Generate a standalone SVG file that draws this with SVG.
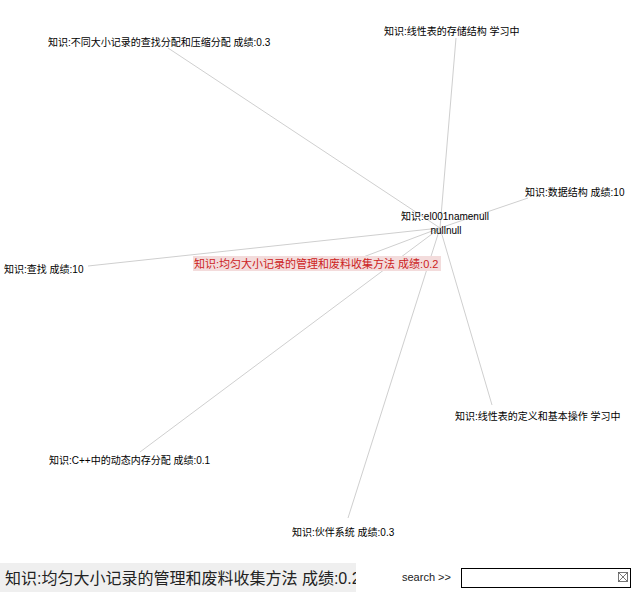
<svg xmlns="http://www.w3.org/2000/svg" width="634" height="604" viewBox="0 0 634 604">
<style>
.l{stroke:#cfcfcf;stroke-width:1;fill:none}
.t{font-family:"Liberation Sans","Noto Sans CJK SC",sans-serif;font-size:10px;fill:#000}
</style>
<rect width="634" height="604" fill="#fff"/>
<g id="connectors">
<line class="l" x1="440" y1="228" x2="168" y2="48"/>
<line class="l" x1="440" y1="228" x2="456" y2="38"/>
<line class="l" x1="440" y1="228" x2="528" y2="198"/>
<line class="l" x1="440" y1="228" x2="88" y2="266"/>
<line class="l" x1="440" y1="228" x2="350" y2="262"/>
<line class="l" x1="440" y1="228" x2="492" y2="405"/>
<line class="l" x1="440" y1="228" x2="140" y2="452"/>
<line class="l" x1="440" y1="228" x2="348" y2="518"/>
</g>
<g id="n-center"><text class="t" x="445" y="220" text-anchor="middle">知识:el001namenull</text><text class="t" x="446" y="234" text-anchor="middle">nullnull</text></g>
<g id="n1"><text class="t" x="48" y="46">知识:不同大小记录的查找分配和压缩分配 成绩:0.3</text></g>
<g id="n2"><text class="t" x="384" y="35">知识:线性表的存储结构 学习中</text></g>
<g id="n3"><text class="t" x="525" y="196">知识:数据结构 成绩:10</text></g>
<g id="n4"><text class="t" x="4" y="273">知识:查找 成绩:10</text></g>
<g id="n5"><rect x="193" y="256" width="248" height="15" fill="#f3dcdc"/><text class="t" x="194" y="267.5" style="fill:#cc2222;font-size:11px">知识:均匀大小记录的管理和废料收集方法 成绩:0.2</text></g>
<g id="n6"><text class="t" x="455" y="420">知识:线性表的定义和基本操作 学习中</text></g>
<g id="n7"><text class="t" x="49" y="464">知识:C++中的动态内存分配 成绩:0.1</text></g>
<g id="n8"><text class="t" x="292" y="536">知识:伙伴系统 成绩:0.3</text></g>
<g id="panel">
<rect x="0" y="563" width="358" height="29" fill="#efefef"/>
<text x="5" y="584" style="font-family:'Liberation Sans','Noto Sans CJK SC',sans-serif;font-size:16px;fill:#222">知识:均匀大小记录的管理和废料收集方法 成绩:0.2</text>
<rect x="356" y="560" width="40" height="34" fill="#fff"/>
<text x="402" y="581" style="font-family:'Liberation Sans',sans-serif;font-size:11px;fill:#222">search &gt;&gt;</text>
<rect x="461.5" y="568.5" width="169" height="19" fill="#fff" stroke="#000"/>
<g stroke="#555" stroke-width="0.8" fill="none"><rect x="618.5" y="572.5" width="9" height="9"/><line x1="618.5" y1="572.5" x2="627.5" y2="581.5"/><line x1="627.5" y1="572.5" x2="618.5" y2="581.5"/></g>
</g>
</svg>
